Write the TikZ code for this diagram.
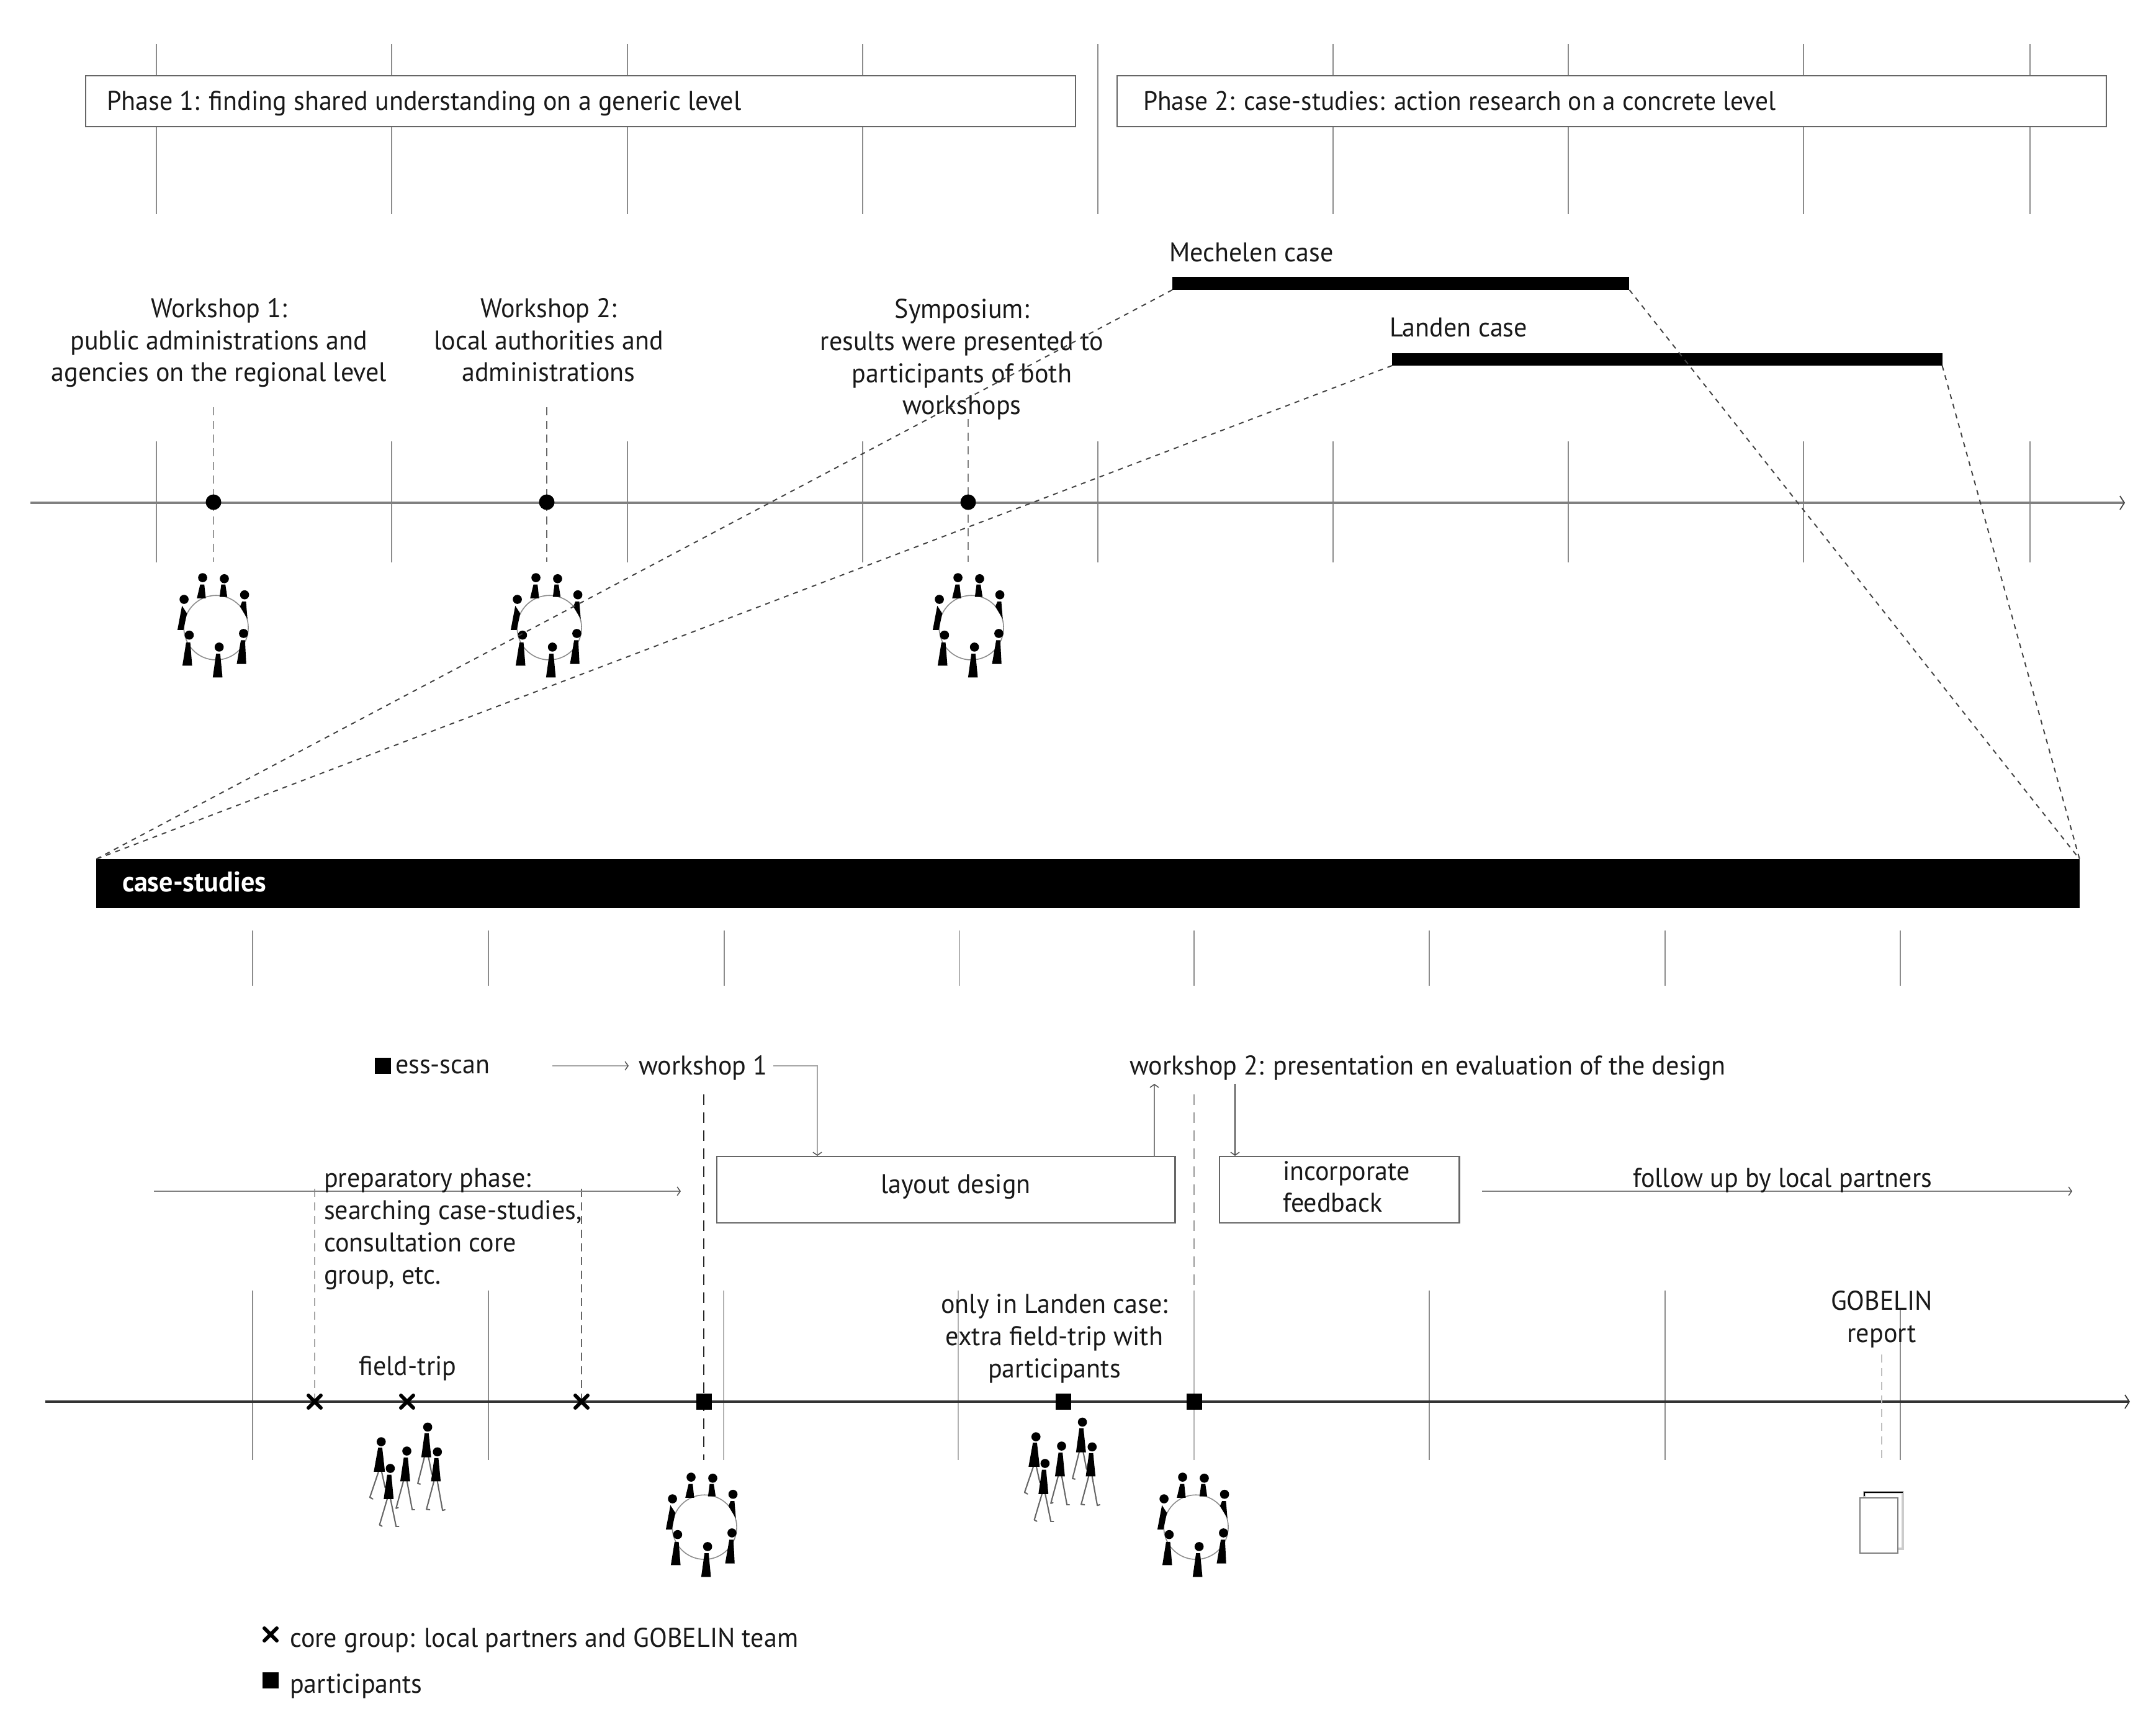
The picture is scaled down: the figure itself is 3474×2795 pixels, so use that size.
\documentclass[tikz,border=0pt]{standalone}
\usepackage{fontspec}
\setmainfont[FakeStretch=0.965]{PT Sans}
\usetikzlibrary{arrows.meta,shapes.misc}
\newcommand{\pplbody}[7]{%
  \fill (#1,#2) circle (22);
  \fill (#3-10,#4) -- (#3+10,#4) -- (#6+3,#7) -- (#5-3,#7) -- cycle;}
\newcommand{\pplleg}[4]{\draw[black!60,line width=0.6pt,line cap=round] (#1,#2) -- (#3,#4);}
\tikzset{
  lab/.style={font=\fontsize{12.4}{14.74}\selectfont,inner sep=0pt,outer sep=0pt,text=black!90,yshift=-0.02cm},
  tickA/.style={draw=black!45,line width=0.55pt},
  tickB/.style={draw=black!30,line width=0.55pt},
  boxed/.style={draw=black!60,line width=0.8pt,fill=white,inner sep=0pt,outer sep=0pt},
  barfill/.style={fill=black,draw=none,inner sep=0pt,outer sep=0pt},
  axisA/.style={draw=black!50,line width=1.1pt,-{Straight Barb[length=0.07cm,width=0.22cm,black!75,line width=0.5pt]}},
  axisB/.style={draw=black!80,line width=0.95pt,-{Straight Barb[length=0.07cm,width=0.22cm,line width=0.5pt]}},
  arrowthin/.style={draw=black!50,line width=0.6pt,-{Straight Barb[length=0.05cm,width=0.14cm,black!70,line width=0.4pt]}},
  diag/.style={draw=black!75,line width=0.55pt,dash pattern=on 0.08cm off 0.08cm},
  vdash/.style={line width=0.6pt,dash pattern=on 0.13cm off 0.09cm},
  vdashB/.style={line width=0.7pt,dash pattern=on 0.17cm off 0.12cm},
  dotm/.style={circle,fill=black,minimum size=0.25cm,inner sep=0pt,outer sep=0pt},
  sqm/.style={rectangle,fill=black,minimum size=0.25cm,inner sep=0pt,outer sep=0pt},
  xm/.style={cross out,draw=black,line width=1.7pt,line cap=round,minimum size=0.2cm,inner sep=0pt,outer sep=0pt},
  ring/.pic={
    \begin{scope}[x=0.003333cm,y=-0.003333cm]
      \draw[black!45,line width=0.45pt] (295,334) circle (156);
      \pplbody{230}{92}{228}{125}{205}{242}{192}
      \pplbody{335}{97}{330}{125}{315}{346}{185}
      \pplbody{165}{370}{160}{405}{135}{176}{518}
      \pplbody{428}{362}{425}{395}{398}{438}{510}
      \pplbody{310}{428}{305}{460}{282}{323}{575}
      \fill (433,175) circle (22);
      \fill (421,208) -- (440,208) -- (447,292) -- (411,232) -- cycle;
      \fill (140,197) circle (22);
      \fill (130,228) -- (154,265) -- (137,345) -- (108,345) -- cycle;
    \end{scope}},
  walkers/.pic={
    \begin{scope}[x=0.003333cm,y=-0.003333cm]
      \pplleg{120}{288}{78}{412}\pplleg{78}{412}{92}{420}
      \pplleg{135}{288}{152}{365}
      \pplleg{342}{218}{310}{345}\pplleg{310}{345}{322}{348}
      \pplleg{362}{218}{378}{300}
      \pplleg{240}{335}{205}{465}\pplleg{205}{465}{215}{462}
      \pplleg{258}{335}{283}{472}\pplleg{283}{472}{295}{472}
      \pplleg{162}{420}{125}{545}\pplleg{125}{545}{137}{552}
      \pplleg{178}{420}{205}{553}\pplleg{205}{553}{218}{553}
      \pplleg{388}{335}{352}{470}\pplleg{352}{470}{368}{472}
      \pplleg{405}{335}{430}{475}\pplleg{430}{475}{442}{472}
      \pplbody{133}{143}{128}{172}{100}{148}{288}
      \pplbody{177}{272}{172}{302}{148}{190}{420}
      \pplbody{257}{188}{252}{220}{228}{270}{335}
      \pplbody{358}{72}{353}{102}{330}{372}{218}
      \pplbody{405}{192}{400}{222}{377}{418}{335}
    \end{scope}}
}
\begin{document}
\begin{tikzpicture}[x=0.01cm,y=-0.01cm]
\useasboundingbox[fill=white] (0,0) rectangle (3474,2795);

% phase ticks
\foreach \tx in {252,631,1011,1390,1769,2148,2527,2906,3271}{
  \draw[tickA] (\tx,71) -- (\tx,345);
  \draw[tickA] (\tx,711) -- (\tx,906);
}
% phase boxes
\node[boxed,minimum width=15.94cm,minimum height=0.82cm,anchor=north west] (boxA) at (138,122) {};
\node[boxed,minimum width=15.93cm,minimum height=0.82cm,anchor=north west] (boxB) at (1800,122) {};
\node[lab,anchor=base west] (phaseA) at (172,176) {Phase 1: finding shared understanding on a generic level};
\node[lab,anchor=base west,font=\fontsize{12.2}{14.74}\selectfont] (phaseB) at (1842,176) {Phase 2: case-studies: action research on a concrete level};

% timeline 1
\coordinate (a1s) at (49,810);
\coordinate (a1e) at (3424,810);
\draw[axisA] (a1s) -- (a1e);

\coordinate (d1t) at (344,656); \coordinate (d1b) at (344,905);
\coordinate (d2t) at (881,656); \coordinate (d2b) at (881,905);
\coordinate (d3t) at (1560,675); \coordinate (d3b) at (1560,905);
\draw[vdash,draw=black!40] (d1t) -- (d1b);
\draw[vdash,draw=black!60] (d2t) -- (d2b);
\draw[vdash,draw=black!50] (d3t) -- (d3b);
\node[dotm] (d1) at (344,809) {};
\node[dotm] (d2) at (881,809) {};
\node[dotm] (d3) at (1560,809) {};

\node[lab,anchor=base,align=center] (w1) at (353,613) {Workshop 1:\\public administrations and\\agencies on the regional level};
\node[lab,anchor=base,align=center] (w2) at (884,613) {Workshop 2:\\local authorities and\\administrations};
\node[lab,anchor=base,align=center] (sy) at (1550,666) {Symposium:\\results were presented to\\participants of both\\workshops};

\pic (r1) at (250,900) {ring};
\pic (r2) at (787,900) {ring};
\pic (r3) at (1467,900) {ring};

% case bars
\node[barfill,minimum width=7.36cm,minimum height=0.21cm,anchor=north west] (mech) at (1889,446) {};
\node[barfill,minimum width=8.86cm,minimum height=0.2cm,anchor=north west] (land) at (2243,569) {};
\node[lab,anchor=base west] (mechl) at (1884,420) {Mechelen case};
\node[lab,anchor=base west] (landl) at (2239,541) {Landen case};

% big bar
\node[barfill,minimum width=31.94cm,minimum height=0.79cm,anchor=north west] (cs) at (155,1384) {};
\node[lab,anchor=base west,text=white,font=\fontsize{13}{14.74}\selectfont\bfseries] (csl) at (197,1435) {case-studies};

\draw[diag] (mech.south west) -- (cs.north west);
\draw[diag] (land.south west) -- (cs.north west);
\draw[diag] (mech.south east) -- (cs.north east);
\draw[diag] (land.south east) -- (cs.north east);

% middle ticks
\foreach \tx/\ts in {407/tickA,787/tickA,1167/tickA,1546/tickB,1924/tickA,2303/tickA,2683/tickA,3062/tickA}{
  \draw[\ts] (\tx,1499) -- (\tx,1588);
}
% lower ticks
\foreach \tx/\ts/\ty in {407/tickA/2079,787/tickA/2079,1166/tickB/2079,1544/tickB/2079,2303/tickA/2079,2683/tickA/2079,3062/tickA/2107}{
  \draw[\ts] (\tx,\ty) -- (\tx,2352);
}

% timeline 2
\coordinate (a2s) at (73,2258);
\coordinate (a2e) at (3432,2258);
\draw[axisB] (a2s) -- (a2e);

% vertical dashes
\coordinate (x1t) at (507,1915);
\coordinate (x1b) at (507,2258);
\coordinate (x3t) at (937,1915);
\coordinate (x3b) at (937,2258);
\coordinate (s1t) at (1134,1763);
\coordinate (s1b) at (1134,2352);
\coordinate (s3t) at (1924,1763);
\coordinate (s3b) at (1924,2352);
\coordinate (gt) at (3032,2182);
\coordinate (gb) at (3032,2352);
\draw[vdash,draw=black!35] (x1t) -- (x1b);
\draw[vdash,draw=black!60] (x3t) -- (x3b);
\draw[vdashB,draw=black!85] (s1t) -- (s1b);
\draw[vdashB,draw=black!40] (s3t) -- (1924,2079);
\draw[vdash,draw=black!25] (gt) -- (gb);
\draw[tickB] (1924,2079) -- (s3b);

\node[xm] (x1) at (507,2258) {};
\node[xm] (x2) at (656,2258) {};
\node[xm] (x3) at (937,2258) {};
\node[sqm] (s1) at (1134,2258) {};
\node[sqm] (s2) at (1713,2258) {};
\node[sqm] (s3) at (1924,2258) {};

% boxes
\node[boxed,fill=none,minimum width=7.38cm,minimum height=1.07cm,anchor=north west] (layout) at (1155,1863) {};
\node[lab] (layoutl) at (1540,1910) {layout design};
\node[boxed,fill=none,minimum width=3.86cm,minimum height=1.07cm,anchor=north west] (incorp) at (1965,1863) {};
\node[lab,anchor=base west,align=left] (incorpl) at (2067,1951) {incorporate\\feedback};

% top row
\node[sqm] (ess) at (617,1717) {};
\node[lab,anchor=base west] (essl) at (637,1728) {ess-scan};
\node[lab,anchor=base west] (ws1) at (1029,1730) {workshop 1};
\node[lab,anchor=base west] (ws2) at (1820,1730) {workshop 2: presentation en evaluation of the design};
\coordinate (essa) at (890,1717);
\coordinate (ws1a) at (1013,1717);
\draw[arrowthin,draw=black!35] (essa) -- (ws1a);
\coordinate (ws1b) at (1246,1717);
\coordinate (ws1c) at (1317,1717);
\coordinate (lay1) at (1317,1862);
\draw[arrowthin,draw=black!35] (ws1b) -- (ws1c) -- (lay1);
\coordinate (lay2) at (1860,1863);
\coordinate (ws2a) at (1860,1746);
\draw[arrowthin] (lay2) -- (ws2a);
\coordinate (ws2b) at (1990,1746);
\coordinate (inc1) at (1990,1862);
\draw[arrowthin,draw=black!70] (ws2b) -- (inc1);

% prep and follow arrows
\coordinate (p1) at (248,1919);
\coordinate (p2) at (1097,1919);
\draw[arrowthin] (p1) -- (p2);
\coordinate (f1) at (2388,1919);
\coordinate (f2) at (3339,1919);
\draw[arrowthin] (f1) -- (f2);
\node[lab,anchor=base west] (fl) at (2631,1910) {follow up by local partners};

% labels
\node[lab,anchor=base west,align=left] (prep) at (522,2066) {preparatory phase:\\searching case-studies,\\consultation core\\group, etc.};
\node[lab,anchor=base] (ft) at (657,2213) {field-trip};
\node[lab,anchor=base,align=center] (only) at (1699,2217) {only in Landen case:\\extra field-trip with\\participants};
\node[lab,anchor=base,align=center] (gob) at (3032,2160) {GOBELIN\\report};

% figures
\pic (w1p) at (570,2275) {walkers};
\pic (w2p) at (1625,2267) {walkers};
\pic (r4) at (1037,2349) {ring};
\pic (r5) at (1829,2349) {ring};

% report icon
\draw[draw=black!20,line width=0.9pt,fill=white] (3004,2495) rectangle (3066,2404);
\draw[draw=black,line width=0.6pt] (3004,2410) -- (3004,2404) -- (3066,2404);
\draw[draw=black!50,line width=0.7pt,fill=white] (2997,2413) rectangle (3058,2502);

% legend
\node[xm] (lx) at (436,2633) {};
\node[sqm] (ls) at (436,2707) {};
\node[lab,anchor=base west] (lxl) at (467,2651) {core group: local partners and GOBELIN team};
\node[lab,anchor=base west] (lsl) at (467,2725) {participants};
\end{tikzpicture}
\end{document}
